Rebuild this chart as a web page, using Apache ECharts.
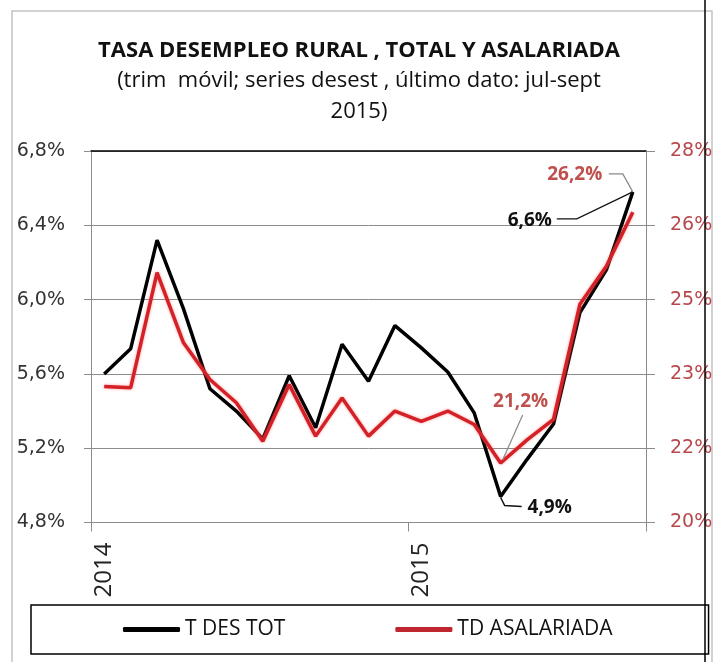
<!DOCTYPE html>
<html>
<head>
<meta charset="utf-8">
<script src="https://cdn.jsdelivr.net/npm/echarts@6/dist/echarts.min.js"></script>
<style>
html,body{margin:0;padding:0;background:#fff;}
#chart{width:718px;height:662px;}
</style>
</head>
<body>
<div id="chart"></div>
<script>
// ---- data ----
const categories = ['ene-14','feb-14','mar-14','abr-14','may-14','jun-14','jul-14','ago-14','sep-14','oct-14','nov-14','dic-14',
                    'ene-15','feb-15','mar-15','abr-15','may-15','jun-15','jul-15','ago-15','sep-15'];
const yearLabels = {'ene-14':'2014','ene-15':'2015'};
const totalRate = [5.60,5.735,6.32,5.95,5.52,5.40,5.25,5.59,5.31,5.76,5.56,5.86,5.74,5.61,5.39,4.94,5.14,5.33,5.93,6.16,6.58];
const salariedRate = [22.93,22.90,25.38,23.87,23.08,22.58,21.75,22.97,21.86,22.68,21.86,22.40,22.18,22.40,22.11,21.28,21.78,22.22,24.70,25.52,26.68];
const seriesNames = ['T DES TOT','TD ASALARIADA'];
const totalNotes = {15:'4,9%', 20:'6,6%'};
const salariedNotes = {15:'21,2%', 20:'26,2%'};
const titleText = 'TASA DESEMPLEO RURAL , TOTAL Y ASALARIADA';
const subText = '(trim  móvil; series desest , último dato: jul-sept\n2015)';

// ---- layout (label centre offsets from their point, px) ----
const noteOffsets = {
  '0-15':[49,11], '0-20':[-103,29],
  '1-15':[20,-61], '1-20':[-58,-38]
};

function buildData(values, notes, color){
  return values.map((v,i)=> notes[i] ? {
    value:v,
    label:{show:true, formatter:notes[i], color:color, fontFamily:'Open Sans', fontWeight:'bold', fontSize:19}
  } : v);
}

const chart = echarts.init(document.getElementById('chart'), null, {renderer:'canvas'});
const fmtLeft = v => v.toFixed(1).replace('.',',') + '%';
const fmtRight = v => Math.round(v) + '%';

function layoutFn(p){
  const off = noteOffsets[p.seriesIndex + '-' + p.dataIndex];
  if(!off) return {};
  const cx = p.rect.x + p.rect.width/2, cy = p.rect.y + p.rect.height/2;
  return {x:cx+off[0], y:cy+off[1], align:'center', verticalAlign:'middle'};
}

chart.setOption({
  animation:false,
  backgroundColor:'#fff',
  title:{
    text:titleText, subtext:subText, left:'center', top:35, itemGap:3,
    textStyle:{fontFamily:'Open Sans', fontWeight:'bold', fontSize:22, color:'#111'},
    subtextStyle:{fontFamily:'Open Sans', fontSize:22, color:'#111', lineHeight:31, align:'center'}
  },
  grid:{left:91, right:72, top:151, bottom:139.5, containLabel:false},
  legend:{
    data:seriesNames, left:31, bottom:8, icon:'roundRect', itemWidth:57, itemHeight:5, itemGap:110,
    textStyle:{fontFamily:'Open Sans', fontSize:21, color:'#111'},
    borderColor:'#000', borderWidth:1.5, padding:[14,96,14,92]
  },
  xAxis:[{
    type:'category', data:categories, boundaryGap:true,
    axisLine:{lineStyle:{color:'#8c8c8c', width:1}},
    axisTick:{show:true, interval:(i)=>i===0||i===12, length:9, lineStyle:{color:'#8c8c8c'}},
    axisLabel:{interval:(i,v)=>!!yearLabels[v], formatter:v=>yearLabels[v]||'', rotate:90, margin:20,
               fontFamily:'Open Sans', fontSize:24, color:'#222'},
    splitLine:{show:true, interval:(i)=>i===12, lineStyle:{color:'#8c8c8c', width:1}}
  },{
    type:'category', data:categories, position:'top', boundaryGap:true,
    axisLine:{lineStyle:{color:'#000', width:1.5}}, axisTick:{show:false}, axisLabel:{show:false}, splitLine:{show:false}
  }],
  yAxis:[{
    type:'value', min:4.8, max:6.8, interval:0.4, position:'left',
    axisLine:{show:true, lineStyle:{color:'#8c8c8c'}},
    axisTick:{show:true, length:7, lineStyle:{color:'#8c8c8c'}},
    axisLabel:{formatter:fmtLeft, margin:26, fontFamily:'DejaVu Sans', fontSize:19, color:'#333'},
    splitLine:{show:true, lineStyle:{color:'#8c8c8c', width:1}}
  },{
    type:'value', min:20, max:28, interval:1.6, position:'right',
    axisLine:{show:true, lineStyle:{color:'#8c8c8c'}},
    axisTick:{show:true, length:9, lineStyle:{color:'#8c8c8c'}},
    axisLabel:{formatter:fmtRight, margin:24, fontFamily:'DejaVu Sans', fontSize:19, color:'#b8474c'},
    splitLine:{show:false}
  }],
  series:[{
    name:seriesNames[0], type:'line', xAxisIndex:0, yAxisIndex:0,
    data:buildData(totalRate, totalNotes, '#111'),
    symbol:'circle', symbolSize:0, showSymbol:true, showAllSymbol:true,
    lineStyle:{color:'#000', width:3.5}, itemStyle:{color:'#000'},
    label:{show:false}, labelLayout:layoutFn, z:3
  },{
    name:seriesNames[1], type:'line', xAxisIndex:0, yAxisIndex:1,
    data:buildData(salariedRate, salariedNotes, '#c0504d'),
    symbol:'circle', symbolSize:0, showSymbol:true, showAllSymbol:true,
    lineStyle:{color:'#d42128', width:3.5, shadowColor:'rgba(255,90,90,0.6)', shadowBlur:3},
    itemStyle:{color:'#c0262d'},
    label:{show:false}, labelLayout:layoutFn, z:4
  }]
});

// leader lines for the annotations, anchored on the library's pixel positions
const pB20 = chart.convertToPixel({seriesIndex:0}, [20, totalRate[20]]);
const pB15 = chart.convertToPixel({seriesIndex:0}, [15, totalRate[15]]);
const pR15 = chart.convertToPixel({seriesIndex:1}, [15, salariedRate[15]]);
const rel = (p, pts) => pts.map(d => [p[0]+d[0], p[1]+d[1]]);
chart.setOption({
  graphic:[
    {type:'rect', shape:{x:12, y:11, width:700, height:700}, style:{fill:'none', stroke:'#c4c4c4', lineWidth:1.5}, silent:true, z:-1},
    {type:'polyline', shape:{points:rel(pB20, [[-76,27],[-56,27],[0,0]])}, style:{stroke:'#111', lineWidth:1.2, fill:'none'}, silent:true, z:50},
    {type:'polyline', shape:{points:rel(pB20, [[-24,-18],[-10,-18],[0,0]])}, style:{stroke:'#888', lineWidth:1.2, fill:'none'}, silent:true, z:50},
    {type:'polyline', shape:{points:rel(pR15, [[22,-48],[2,-3]])}, style:{stroke:'#888', lineWidth:1.2, fill:'none'}, silent:true, z:50},
    {type:'polyline', shape:{points:rel(pB15, [[21,10],[4,9],[0,1]])}, style:{stroke:'#111', lineWidth:1.5, fill:'none'}, silent:true, z:50},
    {type:'line', shape:{x1:705, y1:0, x2:705, y2:662}, style:{stroke:'#000', lineWidth:1.5}, silent:true, z:100}
  ]
});
</script>
</body>
</html>
